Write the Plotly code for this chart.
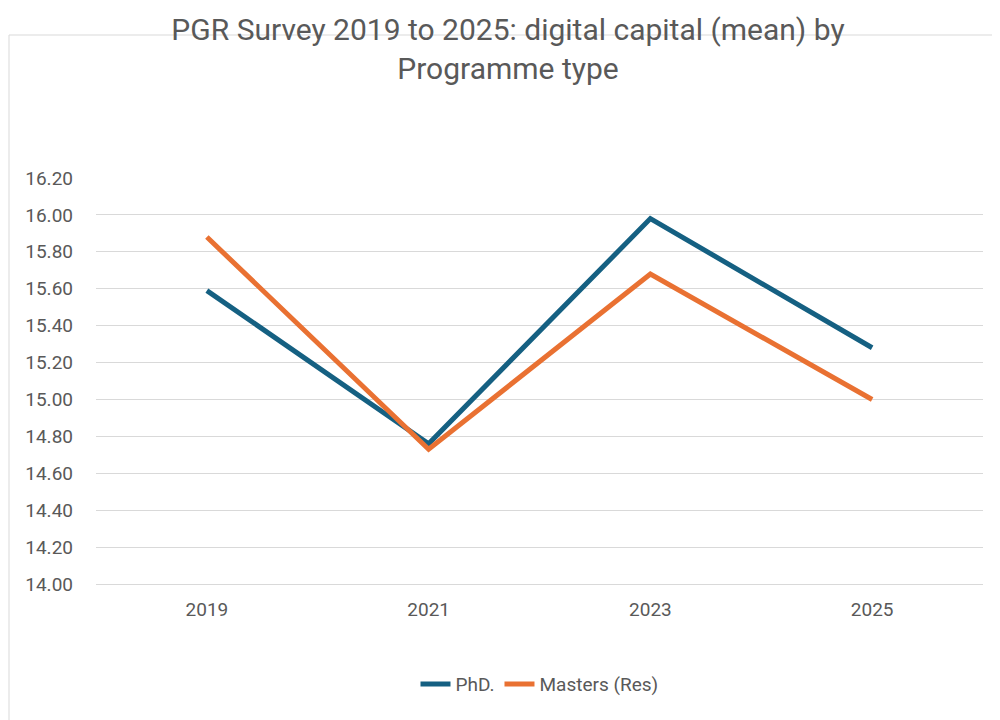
import plotly.graph_objects as go

years = ["2019", "2021", "2023", "2025"]
phd = [15.59, 14.76, 15.98, 15.28]
masters = [15.88, 14.73, 15.68, 15.00]
yticks = [14.0, 14.2, 14.4, 14.6, 14.8, 15.0, 15.2, 15.4, 15.6, 15.8, 16.0, 16.2]

L, R, T, B = 88, 25, 170, 144
pw, ph = 1000 - L - R, 720 - T - B

fig = go.Figure()
fig.add_trace(go.Scatter(x=years, y=phd, name="PhD.", mode="lines",
                         line=dict(color="#156082", width=5)))
fig.add_trace(go.Scatter(x=years, y=masters, name="Masters (Res)", mode="lines",
                         line=dict(color="#E97132", width=5)))
fig.update_layout(
    width=1000, height=720,
    paper_bgcolor="white", plot_bgcolor="white",
    font=dict(family="Roboto", color="#595959", size=18),
    title=dict(text="PGR Survey 2019 to 2025: digital capital (mean) by<br>Programme type",
               x=0.5, xanchor="center", y=0.955, yanchor="top",
               font=dict(size=30, color="#595959")),
    margin=dict(l=L, r=R, t=T, b=B),
    legend=dict(orientation="h", x=0.5, xanchor="center", y=-0.2, yanchor="top",
                font=dict(size=19)),
    shapes=[dict(type="rect", xref="paper", yref="paper",
                 x0=(1 - L) / pw, x1=(999 - L) / pw,
                 y0=(720 - T - 719) / ph, y1=(720 - T - 1) / ph,
                 line=dict(color="#D9D9D9", width=1))],
)
fig.update_xaxes(type="category", showgrid=False, showline=True, linecolor="#D9D9D9",
                 ticks="", tickfont=dict(size=19), range=[-0.5, 3.5], ticklabelstandoff=8)
fig.update_yaxes(range=[14.0, 16.2], tickvals=yticks,
                 ticktext=[f"{v:.2f}" for v in yticks], gridcolor="#D9D9D9",
                 zeroline=False, tickfont=dict(size=19), ticklabelstandoff=22)
fig.write_html("out.html")
